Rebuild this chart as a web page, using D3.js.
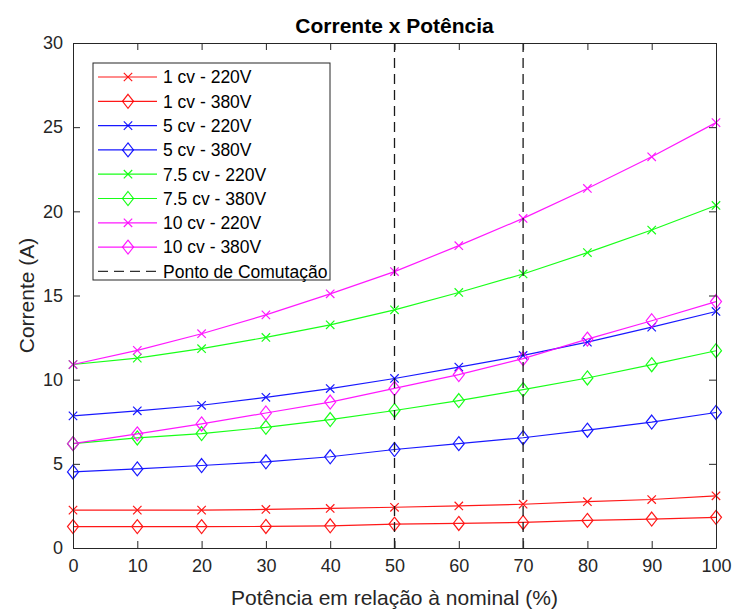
<!DOCTYPE html>
<html>
<head>
<meta charset="utf-8">
<script src="https://cdn.jsdelivr.net/npm/d3@7.9.0/dist/d3.min.js"></script>
<style>
  body { margin: 0; background: #fff; }
  text { font-family: "Liberation Sans", Arial, Helvetica, sans-serif; fill: #262626; }
</style>
</head>
<body>
<div id="chart"></div>
<script>
// Potência em relação à nominal (%)
const potencia = [0, 10, 20, 30, 40, 50, 60, 70, 80, 90, 100];

// Corrente (A) for each motor / voltage
const cv1_220 = [2.25, 2.25, 2.25, 2.29, 2.35, 2.42, 2.5, 2.6, 2.75, 2.88, 3.1];
const cv1_380 = [1.27, 1.27, 1.27, 1.28, 1.32, 1.42, 1.46, 1.52, 1.64, 1.72, 1.82];
const cv5_220 = [7.85, 8.15, 8.48, 8.95, 9.47, 10.07, 10.75, 11.44, 12.23, 13.12, 14.05];
const cv5_380 = [4.52, 4.7, 4.9, 5.12, 5.42, 5.85, 6.2, 6.55, 7.0, 7.48, 8.05];
const cv75_220 = [10.9, 11.28, 11.84, 12.51, 13.26, 14.15, 15.18, 16.28, 17.55, 18.89, 20.35];
const cv75_380 = [6.2, 6.54, 6.8, 7.17, 7.63, 8.17, 8.76, 9.41, 10.1, 10.89, 11.72];
const cv10_220 = [10.9, 11.74, 12.73, 13.85, 15.1, 16.42, 17.96, 19.58, 21.36, 23.24, 25.27];
const cv10_380 = [6.2, 6.78, 7.37, 8.02, 8.67, 9.48, 10.3, 11.25, 12.41, 13.5, 14.64];

const seriesLabels = ["1 cv - 220V", "1 cv - 380V", "5 cv - 220V", "5 cv - 380V",
  "7.5 cv - 220V", "7.5 cv - 380V", "10 cv - 220V", "10 cv - 380V"];
const seriesValues = [cv1_220, cv1_380, cv5_220, cv5_380, cv75_220, cv75_380, cv10_220, cv10_380];
const seriesColors = ["#ff0000", "#ff0000", "#0000ff", "#0000ff", "#00ff00", "#00ff00", "#ff00ff", "#ff00ff"];
const seriesMarkers = ["x", "diamond", "x", "diamond", "x", "diamond", "x", "diamond"];

// switching points (vertical dashed lines)
const comutacao = [50, 70];
const comutacaoLabel = "Ponto de Comutação";

const xTicks = [0, 10, 20, 30, 40, 50, 60, 70, 80, 90, 100];
const yTicks = [0, 5, 10, 15, 20, 25, 30];

const W = 733, H = 610;
const margin = { top: 43, right: 17, bottom: 62, left: 73 };
const width = W - margin.left - margin.right;
const height = H - margin.top - margin.bottom;
const axisColor = "#262626";

const svg = d3.select("#chart").append("svg")
  .attr("width", W).attr("height", H);

const g = svg.append("g").attr("transform", `translate(${margin.left},${margin.top})`);

const x = d3.scaleLinear().domain([0, 100]).range([0, width]);
const y = d3.scaleLinear().domain([0, 30]).range([height, 0]);

// background
g.append("rect").attr("width", width).attr("height", height).attr("fill", "#fff");

// marker drawing helper
function drawMarker(sel, type, color) {
  if (type === "x") {
    const s = 4.2;
    sel.append("path")
      .attr("d", `M${-s},${-s}L${s},${s}M${-s},${s}L${s},${-s}`)
      .attr("stroke", color).attr("stroke-width", 1.2).attr("fill", "none");
  } else {
    const w = 5.5, h = 7;
    sel.append("path")
      .attr("d", `M0,${-h}L${w},0L0,${h}L${-w},0Z`)
      .attr("stroke", color).attr("stroke-width", 1.2).attr("fill", "none");
  }
}

const line = d3.line().x((d, i) => x(potencia[i])).y(d => y(d));

seriesValues.forEach((vals, k) => {
  const sg = g.append("g").attr("opacity", 0.9);
  sg.append("path")
    .datum(vals)
    .attr("d", line)
    .attr("fill", "none")
    .attr("stroke", seriesColors[k])
    .attr("stroke-width", 1.2);
  sg.selectAll("g.m")
    .data(vals)
    .enter()
    .append("g")
    .attr("class", "m")
    .attr("transform", (d, i) => `translate(${x(potencia[i])},${y(d)})`)
    .each(function() { drawMarker(d3.select(this), seriesMarkers[k], seriesColors[k]); });
});

// dashed switching lines
g.selectAll("line.com")
  .data(comutacao)
  .enter()
  .append("line")
  .attr("class", "com")
  .attr("x1", d => x(d)).attr("x2", d => x(d))
  .attr("y1", y(0)).attr("y2", y(30))
  .attr("stroke", "#1a1a1a")
  .attr("stroke-width", 1.3)
  .attr("stroke-dasharray", "10,6");

// axes with inward ticks on all four sides
function styleAxis(sel) {
  sel.selectAll("path.domain").attr("stroke", axisColor).attr("stroke-width", 1);
  sel.selectAll(".tick line").attr("stroke", axisColor);
  sel.selectAll(".tick text").style("font-size", "18px").attr("fill", axisColor);
}

g.append("g")
  .attr("transform", `translate(0,${height})`)
  .call(d3.axisBottom(x).tickValues(xTicks).tickSizeInner(-7).tickSizeOuter(0).tickPadding(11))
  .call(styleAxis);

g.append("g")
  .call(d3.axisTop(x).tickValues(xTicks).tickSizeInner(-7).tickSizeOuter(0).tickFormat(""))
  .call(styleAxis);

g.append("g")
  .call(d3.axisLeft(y).tickValues(yTicks).tickSizeInner(-7).tickSizeOuter(0).tickPadding(10))
  .call(styleAxis);

g.append("g")
  .attr("transform", `translate(${width},0)`)
  .call(d3.axisRight(y).tickValues(yTicks).tickSizeInner(-7).tickSizeOuter(0).tickFormat(""))
  .call(styleAxis);

// titles
svg.append("text")
  .attr("x", margin.left + width / 2)
  .attr("y", 33)
  .attr("text-anchor", "middle")
  .style("font-size", "21px")
  .style("font-weight", "bold")
  .attr("fill", "#000")
  .style("fill", "#000")
  .text("Corrente x Potência");

svg.append("text")
  .attr("x", margin.left + width / 2)
  .attr("y", 605)
  .attr("text-anchor", "middle")
  .style("font-size", "21px")
  .text("Potência em relação à nominal (%)");

svg.append("text")
  .attr("transform", `translate(34,${margin.top + height / 2}) rotate(-90)`)
  .attr("text-anchor", "middle")
  .style("font-size", "21px")
  .text("Corrente (A)");

// legend
const legItems = seriesLabels.map((label, k) => ({ label, color: seriesColors[k], marker: seriesMarkers[k], dashed: false }));
legItems.push({ label: comutacaoLabel, color: "#1a1a1a", marker: null, dashed: true });

const legend = svg.append("g").attr("transform", "translate(93,63)");
legend.append("rect")
  .attr("width", 237).attr("height", 217)
  .attr("fill", "#fff")
  .attr("stroke", axisColor)
  .attr("stroke-width", 1);

const rows = legend.selectAll("g.row")
  .data(legItems)
  .enter()
  .append("g")
  .attr("class", "row")
  .attr("transform", (d, i) => `translate(0,${14 + i * 24.3})`);

rows.append("line")
  .attr("x1", 5).attr("x2", 64)
  .attr("stroke", d => d.color)
  .attr("stroke-width", 1.2)
  .attr("stroke-dasharray", d => d.dashed ? "10,6" : null)
  .attr("opacity", 0.9);

rows.filter(d => d.marker)
  .append("g")
  .attr("transform", "translate(35,0)")
  .attr("opacity", 0.9)
  .each(function(d) { drawMarker(d3.select(this), d.marker, d.color); });

rows.append("text")
  .attr("x", 70)
  .attr("dy", "0.36em")
  .style("font-size", "17.5px")
  .attr("fill", "#000")
  .style("fill", "#000")
  .text(d => d.label);
</script>
</body>
</html>
